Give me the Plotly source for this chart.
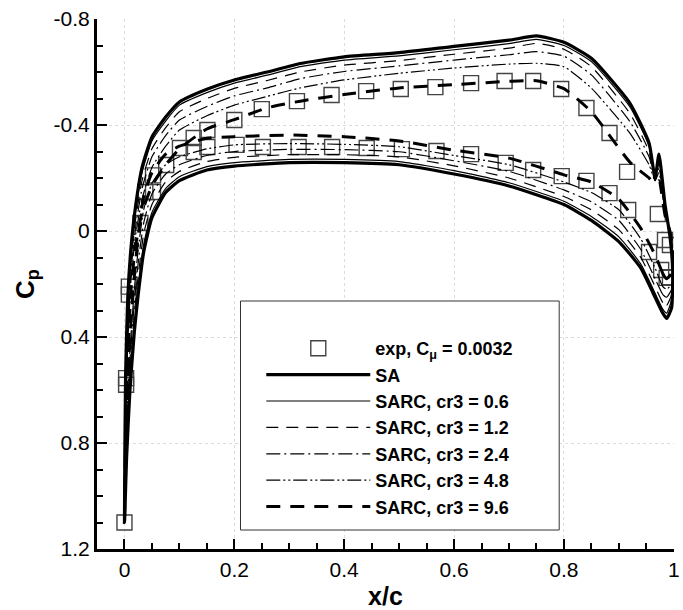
import plotly.graph_objects as go

# ---------------- data ----------------
# experiment, C_mu = 0.0032
exp_upper_x = [0.0, 0.003, 0.008, 0.029, 0.038, 0.052, 0.076, 0.101, 0.126, 0.151, 0.200, 0.250,
               0.314, 0.377, 0.440, 0.503, 0.566, 0.631, 0.692, 0.744, 0.795, 0.841, 0.883,
               0.915, 0.971, 0.984, 0.993]
exp_upper_cp = [1.10, 0.555, 0.21, -0.03, -0.147, -0.21, -0.249, -0.313, -0.351, -0.381, -0.419, -0.46,
                -0.49, -0.513, -0.528, -0.536, -0.543, -0.558, -0.566, -0.566, -0.536, -0.464, -0.37,
                -0.223, -0.064, 0.034, 0.053]
exp_lower_x = [0.003, 0.008, 0.052, 0.126, 0.151, 0.204, 0.252, 0.317, 0.378, 0.441, 0.505, 0.568,
               0.631, 0.694, 0.744, 0.796, 0.841, 0.883, 0.917, 0.955, 0.977, 0.987, 0.993]
exp_lower_cp = [0.58, 0.24, -0.147, -0.298, -0.317, -0.325, -0.317, -0.317, -0.317, -0.313, -0.309, -0.302,
                -0.29, -0.257, -0.23, -0.207, -0.189, -0.143, -0.079, 0.079, 0.147, 0.177, 0.174]

# computed surfaces: upper surface (leading edge -> Coanda trailing edge)
x_upper = [0.0, 0.002, 0.006, 0.012, 0.02, 0.032, 0.05, 0.075, 0.1, 0.15, 0.2, 0.26, 0.32, 0.4,
           0.5, 0.6, 0.7, 0.75, 0.8, 0.85, 0.92, 0.955, 0.966, 0.973, 0.984, 0.993, 0.998, 0.996, 0.987]
# lower surface (leading edge -> trailing edge)
x_lower = [0.0, 0.004, 0.01, 0.018, 0.025, 0.035, 0.05, 0.075, 0.1, 0.15, 0.2, 0.3, 0.4, 0.5,
           0.6, 0.7, 0.8, 0.85, 0.9, 0.94, 0.966, 0.98, 0.987]

cp_upper_sa = [1.1, 0.55, 0.25, 0.06, -0.09, -0.24, -0.355, -0.43, -0.487, -0.535, -0.57, -0.6, -0.632, -0.657,
               -0.673, -0.697, -0.72, -0.736, -0.712, -0.652, -0.483, -0.332, -0.2, -0.29, -0.1, 0.02, 0.15, 0.29, 0.33]
cp_lower_sa = [1.1, 0.85, 0.6, 0.38, 0.24, 0.08, -0.05, -0.145, -0.19, -0.23, -0.245, -0.258, -0.258, -0.25,
               -0.215, -0.17, -0.1, -0.04, 0.04, 0.14, 0.25, 0.31, 0.33]

cp_upper_06 = [1.1, 0.6, 0.3, 0.09, -0.07, -0.22, -0.34, -0.415, -0.475, -0.522, -0.558, -0.588, -0.62, -0.645,
               -0.661, -0.684, -0.707, -0.723, -0.7, -0.639, -0.469, -0.32, -0.2, -0.28, -0.1, 0.01, 0.13, 0.26, 0.31]
cp_lower_06 = [1.1, 0.83, 0.57, 0.35, 0.21, 0.05, -0.07, -0.16, -0.205, -0.243, -0.258, -0.27, -0.27, -0.262,
               -0.228, -0.182, -0.112, -0.055, 0.022, 0.125, 0.235, 0.295, 0.31]

cp_upper_12 = [1.1, 0.65, 0.34, 0.12, -0.04, -0.19, -0.31, -0.39, -0.45, -0.5, -0.538, -0.568, -0.6, -0.626,
               -0.643, -0.667, -0.69, -0.708, -0.686, -0.62, -0.444, -0.3, -0.19, -0.26, -0.09, 0.01, 0.12, 0.24, 0.28]
cp_lower_12 = [1.1, 0.8, 0.53, 0.31, 0.17, 0.01, -0.1, -0.185, -0.225, -0.262, -0.278, -0.288, -0.288, -0.28,
               -0.246, -0.2, -0.13, -0.08, -0.005, 0.1, 0.21, 0.27, 0.28]

cp_upper_24 = [1.1, 0.7, 0.38, 0.15, -0.01, -0.16, -0.28, -0.36, -0.419, -0.47, -0.51, -0.54, -0.575, -0.602,
               -0.623, -0.645, -0.665, -0.677, -0.66, -0.589, -0.413, -0.28, -0.19, -0.24, -0.08, 0.0, 0.1, 0.22, 0.25]
cp_lower_24 = [1.1, 0.77, 0.49, 0.27, 0.12, -0.03, -0.14, -0.215, -0.25, -0.285, -0.3, -0.308, -0.307, -0.299,
               -0.265, -0.225, -0.155, -0.11, -0.04, 0.07, 0.18, 0.24, 0.25]

cp_upper_48 = [1.1, 0.75, 0.42, 0.18, 0.02, -0.12, -0.24, -0.32, -0.381, -0.435, -0.475, -0.508, -0.54, -0.57,
               -0.595, -0.615, -0.63, -0.633, -0.62, -0.539, -0.369, -0.25, -0.19, -0.22, -0.07, 0.0, 0.08, 0.2, 0.22]
cp_lower_48 = [1.1, 0.74, 0.45, 0.22, 0.07, -0.08, -0.18, -0.25, -0.28, -0.31, -0.325, -0.33, -0.327, -0.318,
               -0.285, -0.25, -0.185, -0.145, -0.08, 0.03, 0.14, 0.21, 0.22]

cp_upper_96 = [1.1, 0.8, 0.48, 0.22, 0.06, -0.07, -0.17, -0.25, -0.31, -0.385, -0.42, -0.465, -0.49, -0.515,
               -0.54, -0.552, -0.565, -0.567, -0.537, -0.45, -0.26, -0.2, -0.18, -0.19, -0.06, 0.0, 0.07, 0.16, 0.18]
cp_lower_96 = [1.1, 0.7, 0.4, 0.17, 0.02, -0.13, -0.22, -0.29, -0.32, -0.35, -0.356, -0.362, -0.356, -0.34,
               -0.305, -0.275, -0.212, -0.185, -0.12, -0.01, 0.09, 0.16, 0.18]

series_names = ["SA", "SARC, cr3 = 0.6", "SARC, cr3 = 1.2", "SARC, cr3 = 2.4",
                "SARC, cr3 = 4.8", "SARC, cr3 = 9.6"]
upper_sets = [cp_upper_sa, cp_upper_06, cp_upper_12, cp_upper_24, cp_upper_48, cp_upper_96]
lower_sets = [cp_lower_sa, cp_lower_06, cp_lower_12, cp_lower_24, cp_lower_48, cp_lower_96]

x_tickvals = [0, 0.2, 0.4, 0.6, 0.8, 1.0]
x_ticktext = ["0", "0.2", "0.4", "0.6", "0.8", "1"]
y_tickvals = [-0.8, -0.4, 0, 0.4, 0.8, 1.2]
y_ticktext = ["-0.8", "-0.4", "0", "0.4", "0.8", "1.2"]

# ---------------- styles ----------------
line_styles = [
    dict(color="black", width=3.2, dash="solid"),
    dict(color="black", width=1.2, dash="solid"),
    dict(color="black", width=1.2, dash="12px,8px"),
    dict(color="black", width=1.2, dash="14px,4px,2px,4px"),
    dict(color="black", width=1.2, dash="14px,3px,2px,3px,2px,3px"),
    dict(color="black", width=3.0, dash="14px,10px"),
]

FONT = "Liberation Sans, Arial, sans-serif"

fig = go.Figure()

# experiment
fig.add_trace(go.Scatter(
    x=exp_upper_x + [None] + exp_lower_x,
    y=exp_upper_cp + [None] + exp_lower_cp,
    mode="markers",
    name="exp, C<sub>\u03bc</sub> = 0.0032",
    marker=dict(symbol="square-open", size=15, color="#444444", line=dict(width=1.4)),
))

for name, up, lo, st in zip(series_names, upper_sets, lower_sets, line_styles):
    xs = list(reversed(x_lower)) + x_upper[1:]
    ys = list(reversed(lo)) + up[1:]
    # full loop: trailing edge (lower) -> leading edge -> upper -> trailing edge
    fig.add_trace(go.Scatter(x=xs, y=ys, mode="lines", name=name,
                             line=dict(st, shape="spline", smoothing=0.5)))

W, H = 683, 610
L, R, T, B = 97, 3, 19, 61
pw, ph = W - L - R, H - T - B

def px_to_paper_x(px):
    return (px - L) / pw

def px_to_paper_y(py):
    return (H - B - py) / ph

# legend frame (white box)
fig.add_shape(type="rect", xref="paper", yref="paper",
              x0=px_to_paper_x(242), x1=px_to_paper_x(564),
              y0=px_to_paper_y(530), y1=px_to_paper_y(301),
              line=dict(color="#333333", width=1), fillcolor="white", layer="above")

axis_common = dict(
    showline=True, linecolor="black", linewidth=3,
    ticks="inside", ticklen=10, tickwidth=2, tickcolor="black",
    showgrid=True, gridcolor="#dcdcdc", gridwidth=1, griddash="dot",
    zeroline=False, mirror=False,
    tickfont=dict(family=FONT, size=21, color="black"),
    ticklabeloverflow="allow",
)

fig.update_layout(
    width=W, height=H,
    margin=dict(l=L, r=R, t=T, b=B),
    plot_bgcolor="white", paper_bgcolor="white",
    font=dict(family=FONT, color="black"),
    showlegend=True,
    legend=dict(
        x=px_to_paper_x(263), y=px_to_paper_y(330), xanchor="left", yanchor="top",
        bgcolor="rgba(0,0,0,0)", borderwidth=0,
        font=dict(family=FONT, size=18, color="black", weight="bold"),
        itemwidth=104, tracegroupgap=0,
    ),
    xaxis=dict(
        range=[-0.05, 1.0004], tickvals=x_tickvals, ticktext=x_ticktext,
        minor=dict(ticks="inside", ticklen=6, tickwidth=1.5, tickcolor="black", dtick=0.05, tick0=0, showgrid=False),
        title=dict(text="<b>x/c</b>", font=dict(family=FONT, size=25, color="black"), standoff=8),
        **axis_common,
    ),
    yaxis=dict(
        range=[1.2, -0.8], tickvals=y_tickvals, ticktext=y_ticktext,
        minor=dict(ticks="inside", ticklen=6, tickwidth=1.5, tickcolor="black", dtick=0.1, tick0=0, showgrid=False),
        title=dict(text="<b>C<sub>p</sub></b>", font=dict(family=FONT, size=26, color="black"), standoff=12),
        **axis_common,
    ),
)

fig.write_html("out.html")
